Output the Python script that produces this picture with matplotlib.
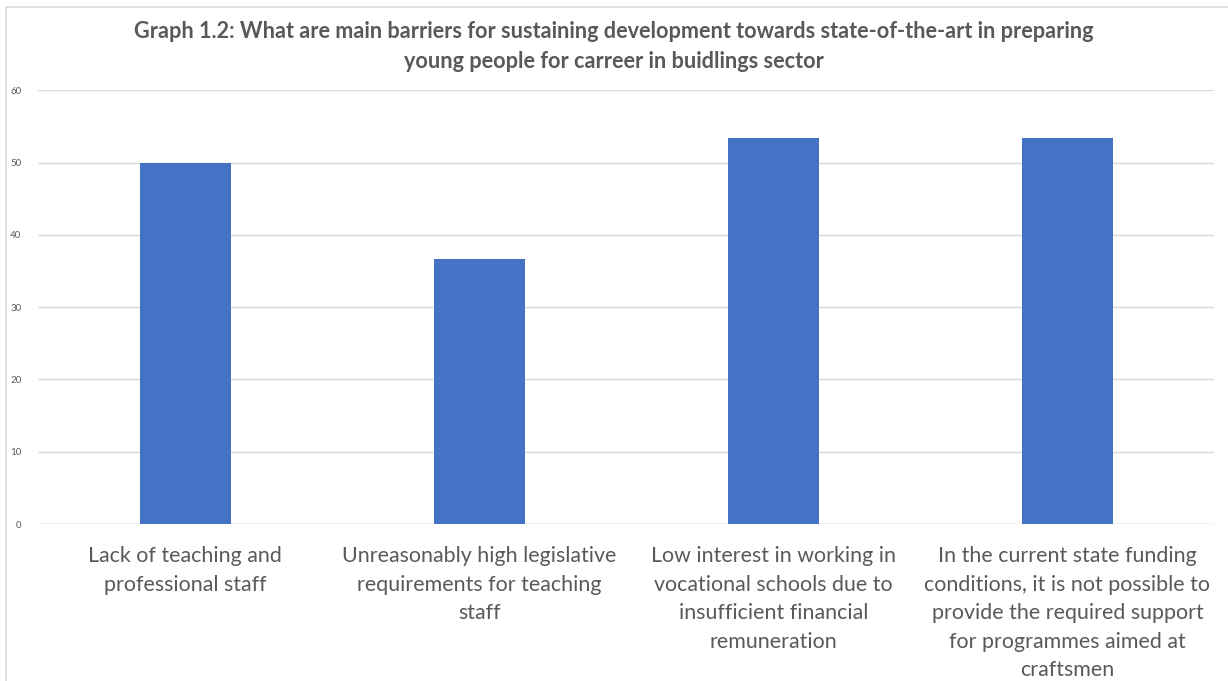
import matplotlib
matplotlib.use('Agg')
import matplotlib.pyplot as plt
from matplotlib.patches import Rectangle

# data
categories = [
    'Lack of teaching and\nprofessional staff',
    'Unreasonably high legislative\nrequirements for teaching\nstaff',
    'Low interest in working in\nvocational schools due to\ninsufficient financial\nremuneration',
    'In the current state funding\nconditions, it is not possible to\nprovide the required support\nfor programmes aimed at\ncraftsmen',
]
values = [50.0, 36.67, 53.33, 53.33]
y_ticks = [0, 10, 20, 30, 40, 50, 60]

title = ('Graph 1.2: What are main barriers for sustaining development towards state-of-the-art in preparing\n'
         'young people for carreer in buidlings sector')

plt.rcParams['font.family'] = ['Lato', 'DejaVu Sans']
text_grey = '#595959'
bar_blue = '#4472C4'

fig = plt.figure(figsize=(12.28, 6.81), dpi=100)
ax = fig.add_axes([0.031, 0.2305, 0.958, 0.637])

# outer chart frame (left/top edge visible in the picture)
fig.patches.append(Rectangle((0.005, -0.1), 1.2, 1.09, transform=fig.transFigure,
                             fill=False, edgecolor='#d9d9d9', linewidth=1.2))

x = range(len(values))
ax.bar(x, values, width=0.31, color=bar_blue, zorder=3)

ax.set_xlim(-0.5, len(values) - 0.5)
ax.set_ylim(0, 60)
ax.set_yticks(y_ticks)
ax.set_yticklabels([str(t) for t in y_ticks], fontsize=7, color=text_grey)
ax.set_xticks(list(x))
ax.set_xticklabels(categories, fontsize=15.4, color=text_grey, linespacing=1.53)
ax.tick_params(axis='both', length=0)
ax.tick_params(axis='x', pad=16)
ax.tick_params(axis='y', pad=12)

ax.grid(axis='y', color='#d9d9d9', linewidth=1, zorder=0)
for s in ax.spines.values():
    s.set_visible(False)
ax.axhline(0, color='#d9d9d9', linewidth=1, zorder=1)

fig.text(0.5, 0.932, title, ha='center', va='center', fontsize=15.6, fontweight='bold',
         color=text_grey, linespacing=1.5)

fig.savefig('out.png', dpi=100)
